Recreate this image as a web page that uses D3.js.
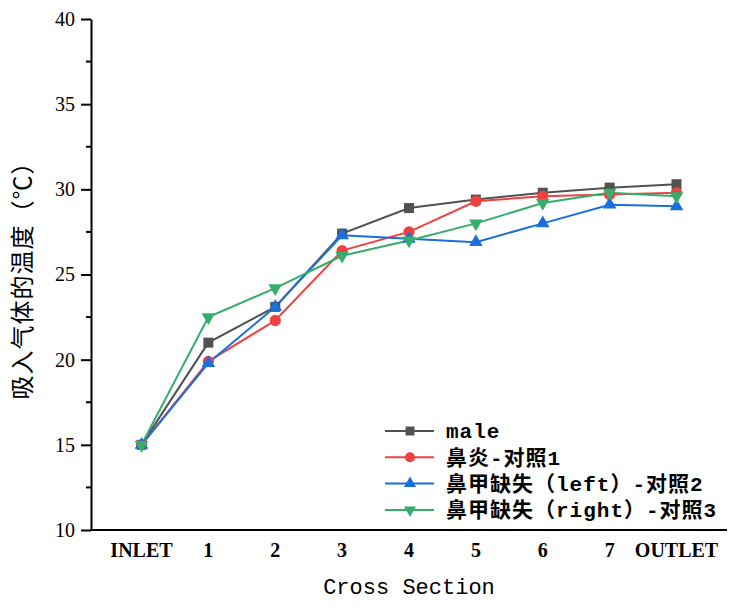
<!DOCTYPE html>
<html>
<head>
<meta charset="utf-8">
<script src="https://cdn.jsdelivr.net/npm/d3@7"></script>
<style>
  body { margin: 0; background: #fff; }
  .tick-y { font-family: "Liberation Serif", serif; font-size: 20px; }
  .tick-x { font-family: "Liberation Serif", serif; font-size: 20px; font-weight: bold; }
  .legend-text { font-family: "Liberation Mono", "Noto Sans CJK SC", monospace; font-size: 21px; font-weight: bold; letter-spacing: 1px; }
  .axis-title-x { font-family: "Liberation Mono", "Noto Sans CJK SC", monospace; font-size: 22px; }
  .axis-title-y { font-family: "Noto Sans CJK SC", sans-serif; font-size: 24px; letter-spacing: 1px; }
</style>
</head>
<body>
<div id="chart"></div>
<script>
// categories along the x axis
const sections = ["INLET", "1", "2", "3", "4", "5", "6", "7", "OUTLET"];

// series values
const male      = [15.0, 21.0, 23.1, 27.4, 28.9, 29.4, 29.8, 30.1, 30.3];
const rhinitis  = [15.0, 19.9, 22.3, 26.4, 27.5, 29.3, 29.6, 29.7, 29.8];
const leftLoss  = [15.0, 19.8, 23.1, 27.3, 27.1, 26.9, 28.0, 29.1, 29.0];
const rightLoss = [15.0, 22.5, 24.2, 26.1, 27.0, 28.0, 29.2, 29.8, 29.6];

const seriesNames = ["male", "鼻炎-对照1", "鼻甲缺失（left）-对照2", "鼻甲缺失（right）-对照3"];
const yTicks = [10, 15, 20, 25, 30, 35, 40];
const yMinorTicks = [12.5, 17.5, 22.5, 27.5, 32.5, 37.5];

const width = 755, height = 609;
const plotLeft = 91, plotRight = 727, plotTop = 19, plotBottom = 530;

const series = [
    {name: seriesNames[0], values: male,      color: "#515151", symbol: d3.symbolSquare,   size: 100, rotate: 0},
    {name: seriesNames[1], values: rhinitis,  color: "#F14040", symbol: d3.symbolCircle,   size: 100, rotate: 0},
    {name: seriesNames[2], values: leftLoss,  color: "#1A6FDF", symbol: d3.symbolTriangle, size: 80,  rotate: 0},
    {name: seriesNames[3], values: rightLoss, color: "#37AD6B", symbol: d3.symbolTriangle, size: 80,  rotate: 180}
];

const svg = d3.select("#chart").append("svg")
    .attr("width", width)
    .attr("height", height);

const x = d3.scalePoint()
    .domain(sections)
    .range([plotLeft, plotRight])
    .padding(0.755);

const y = d3.scaleLinear()
    .domain([10, 40])
    .range([plotBottom, plotTop]);

// y axis with major and minor ticks
const yAxis = svg.append("g")
    .attr("transform", "translate(" + plotLeft + ",0)")
    .call(d3.axisLeft(y).tickValues(yTicks).tickSize(10).tickPadding(6).tickSizeOuter(0));
yAxis.attr("font-size", null).attr("font-family", null);
yAxis.select(".domain").attr("stroke-width", 2);
yAxis.selectAll(".tick line").attr("stroke-width", 2);
yAxis.selectAll(".tick text").attr("class", "tick-y");

svg.append("g")
    .selectAll("line")
    .data(yMinorTicks)
    .join("line")
        .attr("x1", plotLeft - 5)
        .attr("x2", plotLeft)
        .attr("y1", d => y(d))
        .attr("y2", d => y(d))
        .attr("stroke", "#000")
        .attr("stroke-width", 2);

// x axis: line only, labels below
svg.append("line")
    .attr("x1", plotLeft - 1)
    .attr("x2", plotRight)
    .attr("y1", plotBottom)
    .attr("y2", plotBottom)
    .attr("stroke", "#000")
    .attr("stroke-width", 2);

svg.append("g")
    .selectAll("text")
    .data(sections)
    .join("text")
        .attr("class", "tick-x")
        .attr("x", d => x(d))
        .attr("y", 557)
        .attr("text-anchor", "middle")
        .text(d => d);

// axis titles
svg.append("text")
    .attr("class", "axis-title-x")
    .attr("x", (plotLeft + plotRight) / 2)
    .attr("y", 594)
    .attr("text-anchor", "middle")
    .text("Cross Section");

svg.append("text")
    .attr("class", "axis-title-y")
    .attr("transform", "translate(31," + ((plotTop + plotBottom) / 2) + ") rotate(-90)")
    .attr("text-anchor", "middle")
    .text("吸入气体的温度（℃）");

// lines
const line = d3.line()
    .x((d, i) => x(sections[i]))
    .y(d => y(d));

series.forEach(s => {
    svg.append("path")
        .datum(s.values)
        .attr("fill", "none")
        .attr("stroke", s.color)
        .attr("stroke-width", 2)
        .attr("d", line);
});

// markers
series.forEach(s => {
    svg.append("g")
        .selectAll("path")
        .data(s.values)
        .join("path")
            .attr("transform", (d, i) => "translate(" + x(sections[i]) + "," + y(d) + ") rotate(" + s.rotate + ")")
            .attr("d", d3.symbol().type(s.symbol).size(s.size))
            .attr("fill", s.color);
});

// legend
const legend = svg.append("g")
    .attr("transform", "translate(385,431)");

series.forEach((s, i) => {
    const row = legend.append("g")
        .attr("transform", "translate(0," + (i * 26.3) + ")");
    row.append("line")
        .attr("x1", 0)
        .attr("x2", 49)
        .attr("stroke", s.color)
        .attr("stroke-width", 2);
    row.append("path")
        .attr("transform", "translate(25,0) rotate(" + s.rotate + ")")
        .attr("d", d3.symbol().type(s.symbol).size(s.size * 0.8))
        .attr("fill", s.color);
    row.append("text")
        .attr("class", "legend-text")
        .attr("x", 61)
        .attr("y", 0)
        .attr("dy", "0.35em")
        .text(s.name);
});
</script>
</body>
</html>
